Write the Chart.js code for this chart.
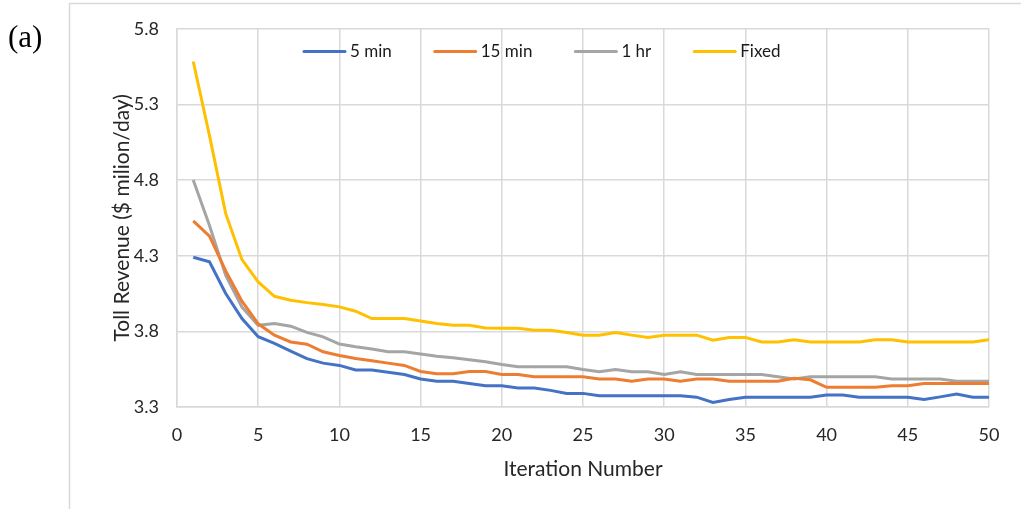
<!DOCTYPE html>
<html>
<head>
<meta charset="utf-8">
<script src="https://cdn.jsdelivr.net/npm/chart.js@4.4.1/dist/chart.umd.min.js"></script>
<style>
html,body{margin:0;padding:0;background:#fff;}
#wrap{position:relative;width:1021px;height:509px;}
</style>
</head>
<body>
<div id="wrap"><canvas id="c" width="1021" height="509"></canvas></div>
<script>
const iterations = [1,2,3,4,5,6,7,8,9,10,11,12,13,14,15,16,17,18,19,20,21,22,23,24,25,26,27,28,29,30,31,32,33,34,35,36,37,38,39,40,41,42,43,44,45,46,47,48,49,50];
const seriesNames = ['5 min','15 min','1 hr','Fixed'];
const min5 = [4.29,4.26,4.05,3.885,3.765,3.72,3.67,3.62,3.59,3.575,
  3.545,3.545,3.53,3.515,3.485,3.47,3.47,3.455,3.44,3.44,
  3.425,3.425,3.41,3.39,3.39,3.375,3.375,3.375,3.375,3.375,
  3.375,3.365,3.33,3.35,3.365,3.365,3.365,3.365,3.365,3.38,
  3.38,3.365,3.365,3.365,3.365,3.35,3.367,3.385,3.365,3.365];
const min15 = [4.53,4.43,4.2,4.0,3.85,3.775,3.73,3.715,3.665,3.64,
  3.62,3.605,3.59,3.575,3.535,3.52,3.52,3.535,3.535,3.515,
  3.515,3.5,3.5,3.5,3.5,3.485,3.485,3.47,3.485,3.485,
  3.47,3.485,3.485,3.47,3.47,3.47,3.47,3.49,3.48,3.43,
  3.43,3.43,3.43,3.44,3.44,3.455,3.455,3.455,3.455,3.455];
const hr1 = [4.8,4.5,4.17,3.96,3.84,3.852,3.834,3.793,3.764,3.716,
  3.698,3.683,3.665,3.665,3.65,3.636,3.625,3.612,3.599,3.581,
  3.566,3.566,3.566,3.566,3.548,3.533,3.548,3.533,3.533,3.515,
  3.533,3.515,3.515,3.515,3.515,3.515,3.5,3.485,3.5,3.5,
  3.5,3.5,3.5,3.485,3.485,3.485,3.485,3.47,3.47,3.47];
const fixed = [5.584,5.094,4.578,4.274,4.127,4.032,4.006,3.99,3.977,3.962,
  3.933,3.885,3.885,3.885,3.869,3.852,3.84,3.84,3.823,3.82,
  3.82,3.808,3.808,3.793,3.775,3.775,3.793,3.775,3.76,3.775,
  3.775,3.775,3.742,3.76,3.76,3.73,3.73,3.745,3.73,3.73,
  3.73,3.73,3.745,3.745,3.73,3.73,3.73,3.73,3.73,3.745];
const yTicks = [3.3,3.8,4.3,4.8,5.3,5.8];
const xTicks = [0,5,10,15,20,25,30,35,40,45,50];
const colors = ['#4472C4','#ED7D31','#A5A5A5','#FFC000'];

const FONT = 'Lato, "Open Sans", sans-serif';
const allSeries = [min5, min15, hr1, fixed];

const datasets = allSeries.map((vals, k) => ({
  label: seriesNames[k],
  data: vals.map((v, i) => ({x: iterations[i], y: v})),
  borderColor: colors[k],
  backgroundColor: colors[k],
  borderWidth: 3,
  pointRadius: 0,
  tension: 0,
  fill: false
}));

const decorPlugin = {
  id: 'decor',
  beforeDraw(chart) {
    const ctx = chart.ctx;
    ctx.save();
    ctx.strokeStyle = '#d9d9d9';
    ctx.lineWidth = 1.5;
    ctx.beginPath();
    ctx.moveTo(69.5, 509);
    ctx.lineTo(69.5, 3.5);
    ctx.lineTo(1021, 3.5);
    ctx.stroke();
    ctx.fillStyle = '#000';
    ctx.font = '31px "Liberation Serif", "DejaVu Serif", serif';
    ctx.textBaseline = 'middle';
    ctx.textAlign = 'left';
    ctx.fillText('(a)', 8, 39);
    ctx.restore();
  },
  afterDraw(chart) {
    const ctx = chart.ctx;
    ctx.save();
    ctx.font = '17px ' + FONT;
    ctx.textBaseline = 'middle';
    ctx.textAlign = 'left';
    let x = 304;
    const y = 51.5;
    chart.data.datasets.forEach(ds => {
      ctx.strokeStyle = ds.borderColor;
      ctx.lineWidth = 3;
      ctx.lineCap = 'round';
      ctx.beginPath();
      ctx.moveTo(x, y);
      ctx.lineTo(x + 41, y);
      ctx.stroke();
      ctx.fillStyle = '#1a1a1a';
      ctx.fillText(ds.label, x + 46, y);
      x += 46 + ctx.measureText(ds.label).width + 43;
    });
    ctx.restore();
  }
};

new Chart(document.getElementById('c'), {
  type: 'line',
  data: { datasets },
  plugins: [decorPlugin],
  options: {
    responsive: false,
    devicePixelRatio: 1,
    animation: false,
    layout: { padding: { left: 0, right: 32, top: 28, bottom: 0 } },
    plugins: { legend: { display: false }, tooltip: { enabled: false } },
    scales: {
      x: {
        type: 'linear',
        min: 0, max: 50,
        afterBuildTicks(scale) { scale.ticks = xTicks.map(v => ({value: v})); },
        afterFit(scale) { scale.height = 102; },
        ticks: { color: '#262626', font: { family: FONT, size: 18 }, padding: 17, maxRotation: 0, autoSkip: false },
        grid: { color: '#d9d9d9', lineWidth: 1.5, drawTicks: false },
        border: { color: '#d9d9d9', width: 1.5 },
        title: { display: true, text: 'Iteration Number', color: '#262626', font: { family: FONT, size: 21 }, padding: { top: 0, bottom: 27 } }
      },
      y: {
        type: 'linear',
        min: 3.3, max: 5.8,
        afterBuildTicks(scale) { scale.ticks = yTicks.map(v => ({value: v})); },
        afterFit(scale) { scale.width = 177; },
        ticks: { color: '#262626', font: { family: FONT, size: 18 }, padding: 18, callback: v => Number(v).toFixed(1) },
        grid: { color: '#d9d9d9', lineWidth: 1.5, drawTicks: false },
        border: { color: '#d9d9d9', width: 1.5 },
        title: { display: true, text: 'Toll Revenue ($ milion/day)', color: '#262626', font: { family: FONT, size: 21 }, padding: { top: 110, bottom: 0 } }
      }
    }
  }
});
</script>
</body>
</html>
